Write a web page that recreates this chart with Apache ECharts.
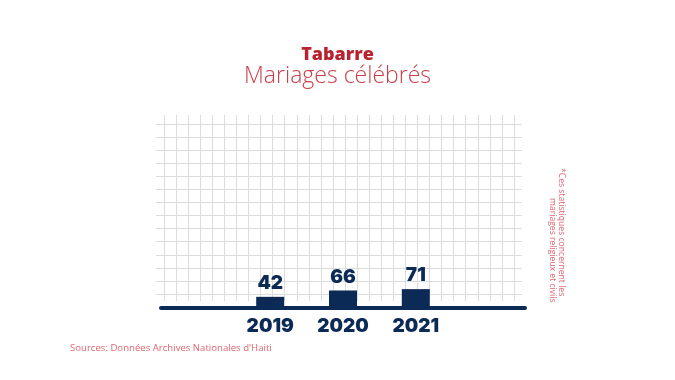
<!DOCTYPE html>
<html>
<head>
<meta charset="utf-8">
<script src="https://cdn.jsdelivr.net/npm/echarts@6/dist/echarts.min.js"></script>
<style>html,body{margin:0;padding:0;background:#fff}#c{width:675px;height:380px}</style>
</head>
<body>
<div id="c"></div>
<script>
var years = ['2019', '2020', '2021'];
var marriages = [42, 66, 71];
var titleText = 'Tabarre';
var subtitleText = 'Mariages célébrés';
var noteLine1 = '*Ces statistiques concernent les';
var noteLine2 = 'mariages religieux et civils';
var sourceText = "Sources: Données Archives Nationales d'Haiti";

var NAVY = '#0b2a55';
var GRIDC = '#dcdcdc';
var FONT = 'Open Sans';
var NUMFONT = 'Inter';

var cats = [''].concat(years, ['']);
var vals = [null].concat(marriages, [null]);

var chart = echarts.init(document.getElementById('c'), null, {renderer: 'canvas'});
chart.setOption({
  animation: false,
  backgroundColor: '#fff',
  title: [
    {text: titleText, left: 'center', top: 41,
     textStyle: {fontFamily: FONT, fontSize: 18, fontWeight: 800, color: '#b8232f'}},
    {text: subtitleText, left: 'center', top: 60,
     textStyle: {fontFamily: FONT, fontSize: 23, fontWeight: 300, color: '#c83f4a'}}
  ],
  grid: [
    {left: 156, right: 153, top: 124, bottom: 86},
    {left: 164, right: 161, top: 115, bottom: 79},
    {left: 161, right: 150, top: 122, bottom: 72}
  ],
  xAxis: [
    {gridIndex: 0, type: 'value', show: false},
    {gridIndex: 1, type: 'value', min: 0, max: 29, interval: 1,
     axisLine: {show: false}, axisTick: {show: false}, axisLabel: {show: false},
     splitLine: {show: true, lineStyle: {color: GRIDC, width: 1}}},
    {gridIndex: 2, type: 'category', data: cats,
     axisLine: {show: true, lineStyle: {color: NAVY, width: 4}},
     axisTick: {show: false},
     axisLabel: {margin: 9, fontFamily: NUMFONT, fontSize: 19, fontWeight: 900, color: NAVY}}
  ],
  yAxis: [
    {gridIndex: 0, type: 'value', min: 0, max: 13, interval: 1,
     axisLine: {show: false}, axisTick: {show: false}, axisLabel: {show: false},
     splitLine: {show: true, lineStyle: {color: GRIDC, width: 1}}},
    {gridIndex: 1, type: 'value', show: false},
    {gridIndex: 2, type: 'value', min: 0, max: 700, show: false}
  ],
  series: [{
    type: 'bar', xAxisIndex: 2, yAxisIndex: 2, data: vals, barWidth: 28,
    itemStyle: {color: NAVY},
    label: {show: true, position: 'top', distance: 4,
            fontFamily: NUMFONT, fontSize: 19, fontWeight: 900, color: NAVY}
  }],
  graphic: [
    {type: 'text', x: 561, y: 168, rotation: -Math.PI / 2,
     style: {text: noteLine1, fontFamily: FONT, fontSize: 8.6, fill: '#dc6670',
             align: 'left', verticalAlign: 'middle'}},
    {type: 'text', x: 552, y: 198, rotation: -Math.PI / 2,
     style: {text: noteLine2, fontFamily: FONT, fontSize: 8.6, fill: '#dc6670',
             align: 'left', verticalAlign: 'middle'}},
    {type: 'text', x: 70, y: 348,
     style: {text: sourceText, fontFamily: FONT, fontSize: 9.6, fill: '#dc6670',
             align: 'left', verticalAlign: 'middle'}}
  ]
});
</script>
</body>
</html>
